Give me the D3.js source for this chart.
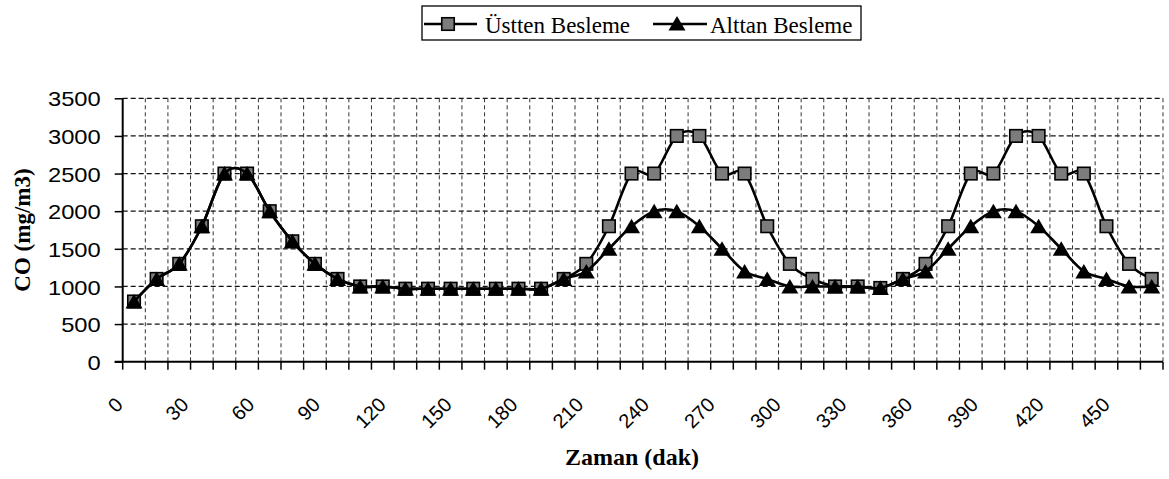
<!DOCTYPE html>
<html>
<head>
<meta charset="utf-8">
<script src="https://cdn.jsdelivr.net/npm/d3@7"></script>
<style>
  html, body { margin: 0; padding: 0; background: #fff; }
  svg { display: block; }
</style>
</head>
<body>
<svg id="chart" width="1169" height="479"></svg>
<script>
// Sampling times (minutes)
const times = [0, 10, 20, 30, 40, 50, 60, 70, 80, 90,
  100, 110, 120, 130, 140, 150, 160, 170, 180, 190,
  200, 210, 220, 230, 240, 250, 260, 270, 280, 290,
  300, 310, 320, 330, 340, 350, 360, 370, 380, 390,
  400, 410, 420, 430, 440, 450];

// CO concentration, top feeding (mg/m3)
const ustten = [800, 1100, 1300, 1800, 2500, 2500, 2000, 1600, 1300, 1100,
  1000, 1000, 970, 970, 970, 970, 970, 970, 970, 1100,
  1300, 1800, 2500, 2500, 3000, 3000, 2500, 2500, 1800, 1300,
  1100, 1000, 1000, 980, 1100, 1300, 1800, 2500, 2500, 3000,
  3000, 2500, 2500, 1800, 1300, 1100];

// CO concentration, bottom feeding (mg/m3)
const alttan = [800, 1100, 1300, 1800, 2500, 2500, 2000, 1600, 1300, 1100,
  1000, 1000, 970, 970, 970, 970, 970, 970, 970, 1100,
  1200, 1500, 1800, 2000, 2000, 1800, 1500, 1200, 1100, 1000,
  1000, 1000, 1000, 980, 1100, 1200, 1500, 1800, 2000, 2000,
  1800, 1500, 1200, 1100, 1000, 1000];

const yTicks = [0, 500, 1000, 1500, 2000, 2500, 3000, 3500];
const xTickLabels = [0, 30, 60, 90, 120, 150, 180, 210, 240, 270, 300, 330, 360, 390, 420, 450];

const seriesNames = ["Üstten Besleme", "Alttan Besleme"];

const svg = d3.select("#chart");
const plotL = 122.7, plotR = 1163, plotT = 98.3, plotB = 361.7;

const x = d3.scaleBand().domain(times).range([plotL, plotR]).padding(0);
const bw = x.bandwidth();
const cx = t => x(t) + bw / 2;
const y = d3.scaleLinear().domain([0, 3500]).range([plotB, plotT]);
// anchor positions of the rotated time labels
const xLab = d3.scaleLinear().domain([0, 450]).range([124, 1111]);

const serif = "'Liberation Serif', 'Times New Roman', serif";
const sans = "'Liberation Sans', Arial, sans-serif";

// Grid: horizontal dashed lines at value ticks
svg.append("g").selectAll("line").data(yTicks.filter(d => d > 0)).join("line")
  .attr("x1", plotL).attr("x2", plotR)
  .attr("y1", d => y(d)).attr("y2", d => y(d))
  .attr("stroke", "#111").attr("stroke-width", 1.2)
  .attr("stroke-dasharray", "5,3");

// Grid: vertical dashed lines at category boundaries
const bounds = times.map(t => x(t)).slice(1).concat([plotR]);
svg.append("g").selectAll("line").data(bounds).join("line")
  .attr("x1", d => d).attr("x2", d => d)
  .attr("y1", plotT).attr("y2", plotB)
  .attr("stroke", "#333").attr("stroke-width", 1)
  .attr("stroke-dasharray", "4,3");

// Axes
const yAxis = svg.append("g").attr("transform", `translate(${plotL},0)`)
  .call(d3.axisLeft(y).tickValues(yTicks).tickSize(8).tickPadding(0).tickFormat(d3.format("d")));
yAxis.select(".domain").attr("stroke", "#000").attr("stroke-width", 2).attr("d", `M0,${plotT}V${plotB}`);
yAxis.selectAll(".tick line").attr("stroke", "#000").attr("stroke-width", 1.5);
yAxis.selectAll(".tick text")
  .attr("font-family", sans).attr("font-size", 21).attr("fill", "#000")
  .attr("x", 0).attr("dy", "0.36em")
  .attr("text-anchor", "end")
  .attr("transform", "translate(-22,0) scale(1.13,1)");

const xAxisG = svg.append("g");
xAxisG.append("line").attr("x1", plotL - 8).attr("x2", plotR)
  .attr("y1", plotB).attr("y2", plotB)
  .attr("stroke", "#000").attr("stroke-width", 2);
xAxisG.selectAll("line.tk").data([plotL].concat(bounds)).join("line")
  .attr("class", "tk")
  .attr("x1", d => d).attr("x2", d => d)
  .attr("y1", plotB).attr("y2", plotB + 8)
  .attr("stroke", "#000").attr("stroke-width", 1.5);
xAxisG.selectAll("text").data(xTickLabels).join("text")
  .attr("transform", d => `translate(${xLab(d)},406) rotate(-45)`)
  .attr("text-anchor", "end")
  .attr("font-family", sans).attr("font-size", 20).attr("fill", "#000")
  .text(d => d);

// Axis titles
svg.append("text")
  .attr("transform", "translate(22,230) rotate(-90)")
  .attr("text-anchor", "middle").attr("dy", "0.35em")
  .attr("font-family", serif).attr("font-weight", "bold").attr("font-size", 23)
  .text("CO (mg/m3)");
svg.append("text")
  .attr("x", 632).attr("y", 465)
  .attr("text-anchor", "middle")
  .attr("font-family", serif).attr("font-weight", "bold").attr("font-size", 24)
  .text("Zaman (dak)");

// Smoothed lines
const line = d3.line()
  .x((d, i) => cx(times[i]))
  .y(d => y(d))
  .curve(d3.curveCatmullRom.alpha(0));

const sq = 12.5;
function squares(g, data) {
  g.selectAll("rect").data(data).join("rect")
    .attr("x", (d, i) => cx(times[i]) - sq / 2)
    .attr("y", d => y(d) - sq / 2)
    .attr("width", sq).attr("height", sq)
    .attr("fill", "#7c7c7c").attr("stroke", "#000").attr("stroke-width", 1.6);
}
const triPath = "M0,-8L8.5,6.5L-8.5,6.5Z";
function triangles(g, data) {
  g.selectAll("path").data(data).join("path")
    .attr("d", triPath)
    .attr("transform", (d, i) => `translate(${cx(times[i])},${y(d) + 0.5})`)
    .attr("fill", "#000");
}

svg.append("path").datum(ustten).attr("d", line)
  .attr("fill", "none").attr("stroke", "#000").attr("stroke-width", 2.6);
squares(svg.append("g"), ustten);
svg.append("path").datum(alttan).attr("d", line)
  .attr("fill", "none").attr("stroke", "#000").attr("stroke-width", 2.6);
triangles(svg.append("g"), alttan);

// Legend
const lg = svg.append("g");
lg.append("rect").attr("x", 422).attr("y", 6).attr("width", 439).attr("height", 34)
  .attr("fill", "#fff").attr("stroke", "#000").attr("stroke-width", 1.3);
lg.append("line").attr("x1", 424).attr("x2", 477).attr("y1", 24).attr("y2", 24)
  .attr("stroke", "#000").attr("stroke-width", 2.6);
lg.append("rect").attr("x", 448 - sq / 2).attr("y", 24 - sq / 2).attr("width", sq).attr("height", sq)
  .attr("fill", "#7c7c7c").attr("stroke", "#000").attr("stroke-width", 1.6);
lg.append("text").attr("x", 485).attr("y", 33)
  .attr("font-family", serif).attr("font-size", 23).text(seriesNames[0]);
lg.append("line").attr("x1", 653).attr("x2", 707).attr("y1", 24).attr("y2", 24)
  .attr("stroke", "#000").attr("stroke-width", 2.6);
lg.append("path").attr("d", triPath).attr("transform", "translate(677,24)").attr("fill", "#000");
lg.append("text").attr("x", 710).attr("y", 33)
  .attr("font-family", serif).attr("font-size", 23).text(seriesNames[1]);
</script>
</body>
</html>
